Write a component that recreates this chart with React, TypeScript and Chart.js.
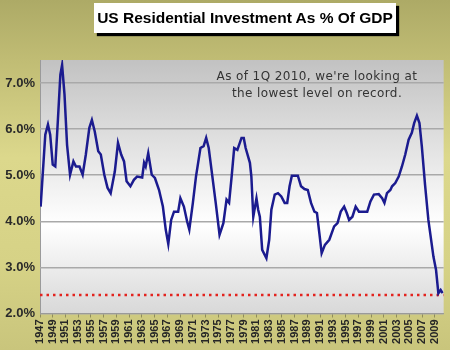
import React, { useEffect, useRef } from "react";
import { Chart, registerables } from "chart.js";

Chart.register(...registerables);

const chartTitle = "US Residential Investment As % Of GDP";
const noteLines = ["As of 1Q 2010, we're looking at", "the lowest level on record."];

const years = [
  1947.1, 1947.83, 1948.25, 1948.6, 1949.0, 1949.4, 1949.8, 1950.2, 1950.47, 1950.85,
  1951.25, 1951.72, 1952.25, 1952.65, 1953.2, 1953.7, 1954.2, 1954.75, 1955.15, 1955.6,
  1956.15, 1956.55, 1957.1, 1957.6, 1958.1, 1958.75, 1959.25, 1959.75, 1960.2, 1960.6,
  1961.2, 1961.75, 1962.25, 1963.05, 1963.35, 1963.6, 1964.0, 1964.55, 1965.05, 1965.7,
  1966.3, 1966.75, 1967.15, 1967.6, 1968.05, 1968.7, 1969.05, 1969.6, 1970.1, 1970.45,
  1971.0, 1971.5, 1972.2, 1972.7, 1973.1, 1973.5, 1974.0, 1974.6, 1975.2, 1975.8,
  1976.3, 1976.7, 1977.1, 1977.5, 1978.0, 1978.65, 1979.0, 1979.3, 1979.97, 1980.2,
  1980.5, 1981.0, 1981.27, 1981.53, 1981.9, 1982.56, 1983.0, 1983.34, 1983.87, 1984.38,
  1984.9, 1985.43, 1985.83, 1986.2, 1986.56, 1987.5, 1988.0, 1988.54, 1989.06, 1989.57,
  1990.1, 1990.5, 1990.88, 1991.24, 1991.75, 1992.44, 1993.2, 1993.73, 1994.24, 1994.77,
  1995.18, 1995.55, 1996.07, 1996.58, 1997.1, 1998.4, 1998.9, 1999.45, 2000.2, 2000.74,
  2001.1, 2001.5, 2002.03, 2002.3, 2002.8, 2003.34, 2003.85, 2004.37, 2004.9, 2005.4,
  2005.77, 2006.2, 2006.6, 2006.97, 2007.48, 2008.0, 2008.8, 2009.2, 2009.57, 2009.93,
  2010.24,
];

const investmentPct = [
  4.32, 5.88, 6.1, 5.88, 5.23, 5.19, 6.17, 7.18, 7.39, 6.75,
  5.66, 5.01, 5.3, 5.19, 5.19, 5.01, 5.45, 6.03, 6.2, 5.95,
  5.52, 5.45, 5.01, 4.73, 4.61, 5.08, 5.7, 5.45, 5.3, 4.87,
  4.76, 4.9, 4.97, 4.95, 5.27, 5.19, 5.48, 5.01, 4.94, 4.68,
  4.32, 3.82, 3.51, 4.03, 4.21, 4.21, 4.5, 4.32, 4.0, 3.82,
  4.39, 4.97, 5.59, 5.63, 5.81, 5.59, 5.05, 4.4, 3.71, 3.96,
  4.47, 4.4, 4.97, 5.59, 5.55, 5.81, 5.81, 5.59, 5.27, 4.97,
  4.1, 4.5, 4.25, 4.1, 3.38, 3.2, 3.6, 4.25, 4.58, 4.61,
  4.54, 4.4, 4.4, 4.76, 4.99, 4.99, 4.76, 4.7, 4.68, 4.4,
  4.21, 4.18, 3.74, 3.31, 3.49, 3.6, 3.89, 3.96, 4.21, 4.32,
  4.18, 4.03, 4.1, 4.32, 4.21, 4.21, 4.43, 4.58, 4.59, 4.5,
  4.4, 4.61, 4.68, 4.76, 4.83, 4.97, 5.19, 5.45, 5.77, 5.92,
  6.13, 6.29, 6.13, 5.63, 4.79, 4.03, 3.23, 2.95, 2.44, 2.51,
  2.44,
];

const xTickYears = [
  1947, 1949, 1951, 1953, 1955, 1957, 1959, 1961, 1963, 1965, 1967, 1969, 1971, 1973, 1975, 1977,
  1979, 1981, 1983, 1985, 1987, 1989, 1991, 1993, 1995, 1997, 1999, 2001, 2003, 2005, 2007, 2009,
];
const yTickValues = [2, 3, 4, 5, 6, 7];
const recordLowLevel = 2.4;
const xRange = [1947, 2010.4];
const yRange = [2, 7.5];

const plotBackground = {
  id: "plotBackground",
  beforeDraw(chart: any) {
    const { ctx, chartArea } = chart;
    const { left, top, right, bottom } = chartArea;
    const g = ctx.createLinearGradient(0, top, 0, bottom);
    g.addColorStop(0, "#c2c2c2");
    g.addColorStop(0.65, "#ffffff");
    g.addColorStop(1, "#d8d8d8");
    ctx.save();
    ctx.fillStyle = g;
    ctx.fillRect(left, top, right - left, bottom - top);
    ctx.strokeStyle = "#9a9a9a";
    ctx.lineWidth = 1;
    ctx.beginPath();
    ctx.moveTo(left + 0.5, top);
    ctx.lineTo(left + 0.5, bottom);
    ctx.stroke();
    ctx.restore();
  },
};

const noteText = {
  id: "noteText",
  afterDatasetsDraw(chart: any) {
    const { ctx } = chart;
    ctx.save();
    ctx.font = "12px 'DejaVu Sans', Verdana, sans-serif";
    (ctx as any).letterSpacing = "0.4px";
    ctx.fillStyle = "#333333";
    ctx.textAlign = "center";
    ctx.textBaseline = "middle";
    ctx.fillText(noteLines[0], 317, 77);
    ctx.fillText(noteLines[1], 317, 94);
    ctx.restore();
  },
};

export default function App() {
  const canvasRef = useRef<HTMLCanvasElement | null>(null);

  useEffect(() => {
    document.body.style.margin = "0";
    const canvas = canvasRef.current;
    if (!canvas) return;
    const chart = new Chart(canvas, {
      type: "line",
      data: {
        datasets: [
          {
            label: "Residential investment % of GDP",
            data: years.map((x, i) => ({ x, y: investmentPct[i] })),
            borderColor: "#1b1b8f",
            borderWidth: 2.5,
            pointRadius: 0,
            tension: 0,
            fill: false,
          },
          {
            label: "Record low",
            data: [
              { x: xRange[0], y: recordLowLevel },
              { x: xRange[1], y: recordLowLevel },
            ],
            borderColor: "#e3231e",
            borderWidth: 2.5,
            borderDash: [2.5, 4],
            pointRadius: 0,
            fill: false,
          },
        ],
      },
      options: {
        responsive: false,
        animation: false,
        layout: { padding: { top: 60, right: 3, left: 0, bottom: 0 } },
        plugins: {
          legend: { display: false },
          tooltip: { enabled: false },
          title: { display: false },
        },
        scales: {
          x: {
            type: "linear",
            min: xRange[0],
            max: xRange[1],
            afterBuildTicks: (s: any) => {
              s.ticks = xTickYears.map((v) => ({ value: v }));
            },
            afterFit: (s: any) => {
              s.height = 36.5;
            },
            grid: { drawOnChartArea: false, drawTicks: true, tickLength: 4, color: "#8f8c5a" },
            border: { display: true, color: "#9a9a9a" },
            ticks: {
              autoSkip: false,
              minRotation: 90,
              maxRotation: 90,
              padding: 2,
              color: "#262626",
              font: { family: "'Liberation Sans', Arial, sans-serif", size: 11, weight: "bold" },
              callback: (v: any) => String(v),
            },
          },
          y: {
            min: yRange[0],
            max: yRange[1],
            afterBuildTicks: (s: any) => {
              s.ticks = yTickValues.map((v) => ({ value: v }));
            },
            afterFit: (s: any) => {
              s.width = 40;
            },
            grid: { color: "#a9a9a9", lineWidth: 1.5, drawTicks: false },
            border: { display: false },
            ticks: {
              padding: 5,
              color: "#2a2a2a",
              font: { family: "'Liberation Sans', Arial, sans-serif", size: 13, weight: "bold" },
              callback: (v: any) => Number(v).toFixed(1) + "%",
            },
          },
        },
      },
      plugins: [plotBackground, noteText],
    });
    return () => chart.destroy();
  }, []);

  return (
    <div
      style={{
        position: "fixed",
        left: 0,
        top: 0,
        width: 450,
        height: 350,
        overflow: "hidden",
        background:
          "linear-gradient(to bottom, #adaa66 0%, #c0bc74 17%, #dcd88c 45%, #d6d286 75%, #c9c57c 100%)",
      }}
    >
      <canvas ref={canvasRef} width={450} height={350} style={{ position: "absolute", left: 0, top: 0 }} />
      <div
        style={{
          position: "absolute",
          left: 94,
          top: 3,
          width: 302,
          height: 30,
          background: "#ffffff",
          boxShadow: "3px 3px 1px #000000",
          fontFamily: "'Liberation Sans', Arial, sans-serif",
          fontWeight: "bold",
          fontSize: 15.5,
          lineHeight: "30px",
          textAlign: "center",
          color: "#000000",
          whiteSpace: "nowrap",
        }}
      >
        {chartTitle}
      </div>
    </div>
  );
}
